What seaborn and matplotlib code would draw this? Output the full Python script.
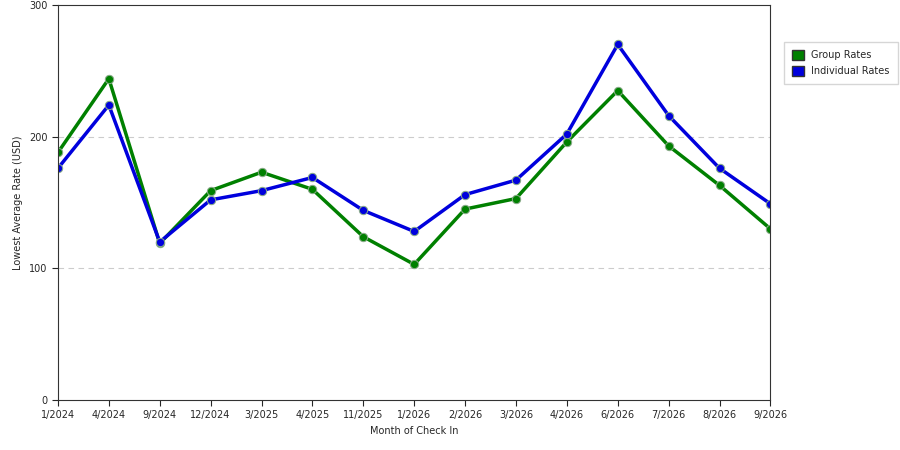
import matplotlib
matplotlib.use("Agg")
import matplotlib.pyplot as plt
import seaborn as sns
import pandas as pd
from matplotlib.patches import Patch

months = ["1/2024","4/2024","9/2024","12/2024","3/2025","4/2025","11/2025","1/2026",
          "2/2026","3/2026","4/2026","6/2026","7/2026","8/2026","9/2026"]
group_rates = [188,244,119,159,173,160,124,103,145,153,196,235,193,163,130]
individual_rates = [176,224,120,152,159,169,144,128,156,167,202,270,216,176,149]

sns.set_style("white")
plt.rcParams['font.family'] = ['DejaVu Sans']
fig = plt.figure(figsize=(9, 4.5), dpi=100)
ax = fig.add_axes([0.0644, 0.111, 0.7916, 0.878])
x = list(range(len(months)))
df = pd.DataFrame({"x": x * 2, "v": group_rates + individual_rates,
                   "s": ["Group Rates"] * len(x) + ["Individual Rates"] * len(x)})
sns.lineplot(data=df, x="x", y="v", hue="s", palette={"Group Rates": "#008000", "Individual Rates": "#0000dd"},
             linewidth=2.5, marker="o", markersize=6, markeredgecolor="#88aa88", legend=False, ax=ax)
ax.set_xlim(0, len(x) - 1)
ax.set_ylim(0, 300)
ax.set_xticks(x)
ax.set_xticklabels(months, fontsize=7)
ax.set_yticks([0, 100, 200, 300])
ax.tick_params(axis='y', labelsize=7, length=4, left=True)
ax.tick_params(axis='x', length=4, bottom=True)
for yv in [100, 200]:
    ax.axhline(yv, color="#cccccc", linestyle=(0, (5, 4)), linewidth=0.8, zorder=0)
for s in ax.spines.values():
    s.set_color("#333333"); s.set_linewidth(0.8)
ax.set_xlabel("Month of Check In", fontsize=7)
ax.set_ylabel("Lowest Average Rate (USD)", fontsize=7)
handles = [Patch(facecolor="#008000", edgecolor="#333333", label="Group Rates"),
           Patch(facecolor="#0000dd", edgecolor="#333333", label="Individual Rates")]
fig.legend(handles=handles, loc="upper left", bbox_to_anchor=(0.866, 0.917), fontsize=7,
           frameon=True, fancybox=False, edgecolor="#cccccc", handlelength=1.2, handleheight=1.2,
           borderpad=0.8, labelspacing=0.6)
fig.savefig("out.png", dpi=100)
